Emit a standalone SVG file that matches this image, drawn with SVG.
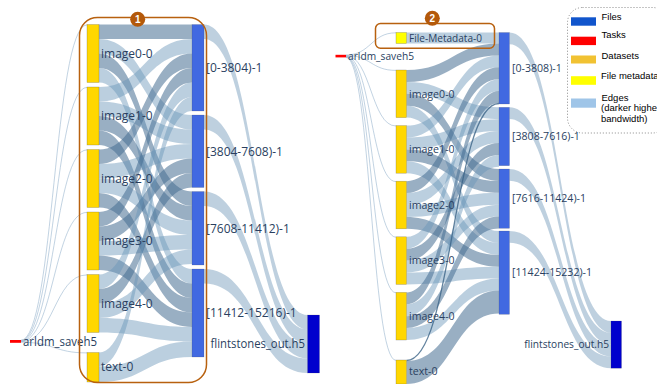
<svg xmlns="http://www.w3.org/2000/svg" width="657" height="384" viewBox="0 0 657 384">
<style>
.ld{fill:rgba(70,110,145,0.55)}
.ll{fill:rgba(105,148,185,0.45)}
.lf{fill:rgba(110,150,185,0.45)}
.lt{fill:none;stroke:rgba(130,165,195,0.55);stroke-width:0.9}
.ltd{fill:none;stroke:rgba(60,100,135,0.8);stroke-width:1.3}
.ds{fill:#ffd700;stroke:rgba(68,68,68,0.45);stroke-width:0.5}
.ch{fill:#4169e1;stroke:rgba(68,68,68,0.35);stroke-width:0.5}
.fo{fill:#0000cd;stroke:rgba(68,68,68,0.35);stroke-width:0.5}
.tk{fill:#ff0000}
.fm{fill:#ffff00;stroke:rgba(68,68,68,0.5);stroke-width:0.5}
.lbl{font-family:"Open Sans","DejaVu Sans",sans-serif;font-size:12px;fill:#2a3f5f}
.lbr{font-family:"Open Sans","DejaVu Sans",sans-serif;font-size:10.6px;fill:#2a3f5f}
.box{fill:none;stroke:#b8610f;stroke-width:1.5}
.badge{fill:#b4590a}
.bt{font-family:"Liberation Sans",Arial,sans-serif;font-size:10px;font-weight:bold;fill:#ffffff;text-anchor:middle}
.lg{font-family:"Liberation Sans",Arial,sans-serif;font-size:9.5px;fill:#000000}
</style>
<rect width="657" height="384" fill="#ffffff"/>

<g id="connectors">
<!-- left: task -> datasets -->
<path class="lt" d="M21,340.2C54,340.2 54,24.9 87,24.9"/>
<path class="lt" d="M21,340.6C54,340.6 54,87.4 87,87.4"/>
<path class="lt" d="M21,341C54,341 54,149.9 87,149.9"/>
<path class="lt" d="M21,341.4C54,341.4 54,212.4 87,212.4"/>
<path class="lt" d="M21,341.8C54,341.8 54,274.9 87,274.9"/>
<path class="lt" d="M21,342.2C54,342.2 54,352.9 87,352.9"/>
<!-- left: datasets -> chunks -->
<path class="ld" d="M99,24.5C145.5,24.5 145.5,24.5 192,24.5L192,39C145.5,39 145.5,39 99,39Z"/>
<path class="ll" d="M99,39C145.5,39 145.5,115 192,115L192,129.5C145.5,129.5 145.5,53.5 99,53.5Z"/>
<path class="ld" d="M99,53.5C145.5,53.5 145.5,191.5 192,191.5L192,206C145.5,206 145.5,68 99,68Z"/>
<path class="ll" d="M99,68C145.5,68 145.5,269 192,269L192,283.5C145.5,283.5 145.5,82.5 99,82.5Z"/>
<path class="ll" d="M99,87C145.5,87 145.5,39 192,39L192,53.5C145.5,53.5 145.5,101.5 99,101.5Z"/>
<path class="ll" d="M99,101.5C145.5,101.5 145.5,129.5 192,129.5L192,144C145.5,144 145.5,116 99,116Z"/>
<path class="ld" d="M99,116C145.5,116 145.5,206 192,206L192,220.5C145.5,220.5 145.5,130.5 99,130.5Z"/>
<path class="ld" d="M99,130.5C145.5,130.5 145.5,283.5 192,283.5L192,298C145.5,298 145.5,145 99,145Z"/>
<path class="ld" d="M99,149.5C145.5,149.5 145.5,53.5 192,53.5L192,68C145.5,68 145.5,164 99,164Z"/>
<path class="ll" d="M99,164C145.5,164 145.5,144 192,144L192,158.5C145.5,158.5 145.5,178.5 99,178.5Z"/>
<path class="ll" d="M99,178.5C145.5,178.5 145.5,220.5 192,220.5L192,235C145.5,235 145.5,193 99,193Z"/>
<path class="ld" d="M99,193C145.5,193 145.5,298 192,298L192,312.5C145.5,312.5 145.5,207.5 99,207.5Z"/>
<path class="ld" d="M99,212C145.5,212 145.5,68 192,68L192,82.5C145.5,82.5 145.5,226.5 99,226.5Z"/>
<path class="ld" d="M99,226.5C145.5,226.5 145.5,158.5 192,158.5L192,173C145.5,173 145.5,241 99,241Z"/>
<path class="ll" d="M99,241C145.5,241 145.5,235 192,235L192,249.5C145.5,249.5 145.5,255.5 99,255.5Z"/>
<path class="ld" d="M99,255.5C145.5,255.5 145.5,312.5 192,312.5L192,327C145.5,327 145.5,270 99,270Z"/>
<path class="ll" d="M99,274.5C145.5,274.5 145.5,82.5 192,82.5L192,97C145.5,97 145.5,289 99,289Z"/>
<path class="ld" d="M99,289C145.5,289 145.5,173 192,173L192,187.5C145.5,187.5 145.5,303.5 99,303.5Z"/>
<path class="ll" d="M99,303.5C145.5,303.5 145.5,249.5 192,249.5L192,264C145.5,264 145.5,318 99,318Z"/>
<path class="ll" d="M99,318C145.5,318 145.5,327 192,327L192,341.5C145.5,341.5 145.5,332.5 99,332.5Z"/>
<path class="ll" d="M99,352.5C145.5,352.5 145.5,97 192,97L192,111C145.5,111 145.5,366.5 99,366.5Z"/>
<path class="ll" d="M99,366.5C145.5,366.5 145.5,341.5 192,341.5L192,357C145.5,357 145.5,382 99,382Z"/>
<!-- left: chunks -> file -->
<path class="lf" d="M204,24.5C255.75,24.5 255.75,315 307.5,315L307.5,329.5C255.75,329.5 255.75,39 204,39Z"/>
<path class="lf" d="M204,115C255.75,115 255.75,329.5 307.5,329.5L307.5,344C255.75,344 255.75,129.5 204,129.5Z"/>
<path class="lf" d="M204,191.5C255.75,191.5 255.75,344 307.5,344L307.5,358.5C255.75,358.5 255.75,206 204,206Z"/>
<path class="lf" d="M204,269C255.75,269 255.75,358.5 307.5,358.5L307.5,373C255.75,373 255.75,283.5 204,283.5Z"/>

<!-- right: task -> datasets -->
<path class="lt" d="M346,55C371,55 371,32.8 396,32.8"/>
<path class="lt" d="M346,55.4C371,55.4 371,70.4 396,70.4"/>
<path class="lt" d="M346,55.8C371,55.8 371,126 396,126"/>
<path class="lt" d="M346,56.2C371,56.2 371,181.6 396,181.6"/>
<path class="lt" d="M346,56.6C371,56.6 371,237.2 396,237.2"/>
<path class="lt" d="M346,57C371,57 371,292.8 396,292.8"/>
<path class="lt" d="M346,57.4C371,57.4 371,360.4 396,360.4"/>
<!-- right: datasets -> chunks -->
<path class="ll" d="M406.5,32.5L499,32.5L499,43.5L406.5,43.5Z"/>
<path class="ld" d="M406.5,70C452.75,70 452.75,43.5 499,43.5L499,55.4C452.75,55.4 452.75,81.9 406.5,81.9Z"/>
<path class="ll" d="M406.5,81.9C452.75,81.9 452.75,107.3 499,107.3L499,119.2C452.75,119.2 452.75,93.8 406.5,93.8Z"/>
<path class="ld" d="M406.5,93.8C452.75,93.8 452.75,169 499,169L499,180.9C452.75,180.9 452.75,105.7 406.5,105.7Z"/>
<path class="ll" d="M406.5,105.7C452.75,105.7 452.75,231 499,231L499,242.9C452.75,242.9 452.75,117.6 406.5,117.6Z"/>
<path class="ll" d="M406.5,125.6C452.75,125.6 452.75,55.4 499,55.4L499,67.3C452.75,67.3 452.75,137.5 406.5,137.5Z"/>
<path class="ll" d="M406.5,137.5C452.75,137.5 452.75,119.2 499,119.2L499,131.1C452.75,131.1 452.75,149.4 406.5,149.4Z"/>
<path class="ld" d="M406.5,149.4C452.75,149.4 452.75,180.9 499,180.9L499,192.8C452.75,192.8 452.75,161.3 406.5,161.3Z"/>
<path class="ll" d="M406.5,161.3C452.75,161.3 452.75,242.9 499,242.9L499,254.8C452.75,254.8 452.75,173.2 406.5,173.2Z"/>
<path class="ld" d="M406.5,181.2C452.75,181.2 452.75,67.3 499,67.3L499,79.2C452.75,79.2 452.75,193.1 406.5,193.1Z"/>
<path class="ll" d="M406.5,193.1C452.75,193.1 452.75,131.1 499,131.1L499,143C452.75,143 452.75,205 406.5,205Z"/>
<path class="ll" d="M406.5,205C452.75,205 452.75,192.8 499,192.8L499,204.7C452.75,204.7 452.75,216.9 406.5,216.9Z"/>
<path class="ld" d="M406.5,216.9C452.75,216.9 452.75,254.8 499,254.8L499,266.7C452.75,266.7 452.75,228.8 406.5,228.8Z"/>
<path class="ll" d="M406.5,236.8C452.75,236.8 452.75,79.2 499,79.2L499,91.1C452.75,91.1 452.75,248.7 406.5,248.7Z"/>
<path class="ld" d="M406.5,248.7C452.75,248.7 452.75,143 499,143L499,154.9C452.75,154.9 452.75,260.6 406.5,260.6Z"/>
<path class="ll" d="M406.5,260.6C452.75,260.6 452.75,204.7 499,204.7L499,216.6C452.75,216.6 452.75,272.5 406.5,272.5Z"/>
<path class="ll" d="M406.5,272.5C452.75,272.5 452.75,266.7 499,266.7L499,278.6C452.75,278.6 452.75,284.4 406.5,284.4Z"/>
<path class="ld" d="M406.5,292.4C452.75,292.4 452.75,91.1 499,91.1L499,103C452.75,103 452.75,304.3 406.5,304.3Z"/>
<path class="ll" d="M406.5,304.3C452.75,304.3 452.75,154.9 499,154.9L499,166.8C452.75,166.8 452.75,316.2 406.5,316.2Z"/>
<path class="ld" d="M406.5,316.2C452.75,316.2 452.75,216.6 499,216.6L499,228.5C452.75,228.5 452.75,328.1 406.5,328.1Z"/>
<path class="ll" d="M406.5,328.1C452.75,328.1 452.75,278.6 499,278.6L499,290.5C452.75,290.5 452.75,340 406.5,340Z"/>
<path class="ltd" d="M406.5,360.5C452.75,360.5 452.75,103.5 499,103.5"/>
<path class="ld" d="M406.5,361C452.75,361 452.75,290.5 499,290.5L499,313.5C452.75,313.5 452.75,384 406.5,384Z"/>
<!-- right: chunks -> file -->
<path class="lf" d="M509.5,32.5C560.25,32.5 560.25,321 611,321L611,332.8C560.25,332.8 560.25,44.3 509.5,44.3Z"/>
<path class="lf" d="M509.5,107.3C560.25,107.3 560.25,332.8 611,332.8L611,344.6C560.25,344.6 560.25,119.1 509.5,119.1Z"/>
<path class="lf" d="M509.5,169C560.25,169 560.25,344.6 611,344.6L611,356.4C560.25,356.4 560.25,180.8 509.5,180.8Z"/>
<path class="lf" d="M509.5,231C560.25,231 560.25,356.4 611,356.4L611,368.2C560.25,368.2 560.25,242.8 509.5,242.8Z"/>
</g>

<!-- LEFT PANEL NODES -->
<g id="L-arldm_saveh5"><rect class="tk" x="10" y="340" width="11" height="2.8"/><text class="lbl" x="23" y="345.5" textLength="74" lengthAdjust="spacingAndGlyphs">arldm_saveh5</text></g>
<g id="L-image0-0"><rect class="ds" x="87" y="24.5" width="12" height="58"/><text class="lbl" x="101" y="57.5">image0-0</text></g>
<g id="L-image1-0"><rect class="ds" x="87" y="87" width="12" height="58"/><text class="lbl" x="101" y="120">image1-0</text></g>
<g id="L-image2-0"><rect class="ds" x="87" y="149.5" width="12" height="58"/><text class="lbl" x="101" y="182.5">image2-0</text></g>
<g id="L-image3-0"><rect class="ds" x="87" y="212" width="12" height="58"/><text class="lbl" x="101" y="245">image3-0</text></g>
<g id="L-image4-0"><rect class="ds" x="87" y="274.5" width="12" height="58"/><text class="lbl" x="101" y="307.5">image4-0</text></g>
<g id="L-text-0"><rect class="ds" x="87" y="352.5" width="12" height="29.5"/><text class="lbl" x="101" y="371">text-0</text></g>
<g id="L-chunk0"><rect class="ch" x="192" y="24.5" width="12" height="86.5"/><text class="lbl" x="206" y="72">[0-3804)-1</text></g>
<g id="L-chunk1"><rect class="ch" x="192" y="115" width="12" height="72.5"/><text class="lbl" x="206" y="155.5">[3804-7608)-1</text></g>
<g id="L-chunk2"><rect class="ch" x="192" y="191.5" width="12" height="73.5"/><text class="lbl" x="206" y="232.5">[7608-11412)-1</text></g>
<g id="L-chunk3"><rect class="ch" x="192" y="269" width="12" height="88"/><text class="lbl" x="206" y="317">[11412-15216)-1</text></g>
<g id="L-flintstones_out"><rect class="fo" x="307.5" y="315" width="12" height="58"/><text class="lbl" x="210.5" y="348" textLength="94.5" lengthAdjust="spacingAndGlyphs">flintstones_out.h5</text></g>

<!-- RIGHT PANEL NODES -->
<g id="R-arldm_saveh5"><rect class="tk" x="335.5" y="54.8" width="10.5" height="2.6"/><text class="lbr" x="348" y="60" textLength="66" lengthAdjust="spacingAndGlyphs">arldm_saveh5</text></g>
<g id="R-File-Metadata-0"><rect class="fm" x="396" y="32.5" width="10.5" height="11"/><text class="lbr" x="409" y="41.8" textLength="73" lengthAdjust="spacingAndGlyphs">File-Metadata-0</text></g>
<g id="R-image0-0"><rect class="ds" x="396" y="70" width="10.5" height="47.6"/><text class="lbr" x="409" y="97.5">image0-0</text></g>
<g id="R-image1-0"><rect class="ds" x="396" y="125.6" width="10.5" height="47.6"/><text class="lbr" x="409" y="153.1">image1-0</text></g>
<g id="R-image2-0"><rect class="ds" x="396" y="181.2" width="10.5" height="47.6"/><text class="lbr" x="409" y="208.7">image2-0</text></g>
<g id="R-image3-0"><rect class="ds" x="396" y="236.8" width="10.5" height="47.6"/><text class="lbr" x="409" y="264.3">image3-0</text></g>
<g id="R-image4-0"><rect class="ds" x="396" y="292.4" width="10.5" height="47.6"/><text class="lbr" x="409" y="319.9">image4-0</text></g>
<g id="R-text-0"><rect class="ds" x="396" y="360" width="10.5" height="24"/><text class="lbr" x="409" y="375.4">text-0</text></g>
<g id="R-chunk0"><rect class="ch" x="499" y="32.5" width="10.5" height="71.5"/><text class="lbr" x="512" y="72">[0-3808)-1</text></g>
<g id="R-chunk1"><rect class="ch" x="499" y="107.3" width="10.5" height="58.4"/><text class="lbr" x="512" y="140.2">[3808-7616)-1</text></g>
<g id="R-chunk2"><rect class="ch" x="499" y="169" width="10.5" height="59.3"/><text class="lbr" x="512" y="202.4">[7616-11424)-1</text></g>
<g id="R-chunk3"><rect class="ch" x="499" y="231" width="10.5" height="83.3"/><text class="lbr" x="512" y="276.4">[11424-15232)-1</text></g>
<g id="R-flintstones_out"><rect class="fo" x="611" y="321" width="10.5" height="47.2"/><text class="lbr" x="524.3" y="348.3" textLength="84.7" lengthAdjust="spacingAndGlyphs">flintstones_out.h5</text></g>

<!-- annotation boxes and badges -->
<g id="group1">
<rect class="box" x="79.5" y="17.5" width="127" height="365" rx="18"/>
<circle class="badge" cx="137.7" cy="19.3" r="7.5"/>
<text class="bt" x="137.7" y="22.8">1</text>
</g>
<g id="group2">
<rect class="box" x="375.5" y="23.5" width="119" height="24.8" rx="5"/>
<circle class="badge" cx="432.3" cy="18.3" r="7.5"/>
<text class="bt" x="432.3" y="21.8">2</text>
</g>

<!-- legend -->
<g id="legend">
<rect x="567.5" y="7.5" width="100" height="125.5" rx="15" fill="#ffffff" stroke="#8a8a8a" stroke-width="1" stroke-dasharray="1,2"/>
<rect x="571" y="17.3" width="25" height="8.4" fill="#1155cc"/>
<text class="lg" x="601.5" y="20">Files</text>
<rect x="571" y="36.7" width="25" height="8.4" fill="#ff0000"/>
<text class="lg" x="601.5" y="37.7">Tasks</text>
<rect x="571" y="55.5" width="25" height="8" fill="#f1c232"/>
<text class="lg" x="601.5" y="59">Datasets</text>
<rect x="571" y="76.2" width="25" height="8.6" fill="#ffff00"/>
<text class="lg" x="601" y="79.3">File metadata</text>
<rect x="571" y="98.5" width="25" height="9.2" fill="#9fc5e8"/>
<text class="lg" x="601.5" y="100.5">Edges</text>
<text class="lg" x="601" y="111">(darker higher</text>
<text class="lg" x="601" y="121.5">bandwidth)</text>
</g>
</svg>
